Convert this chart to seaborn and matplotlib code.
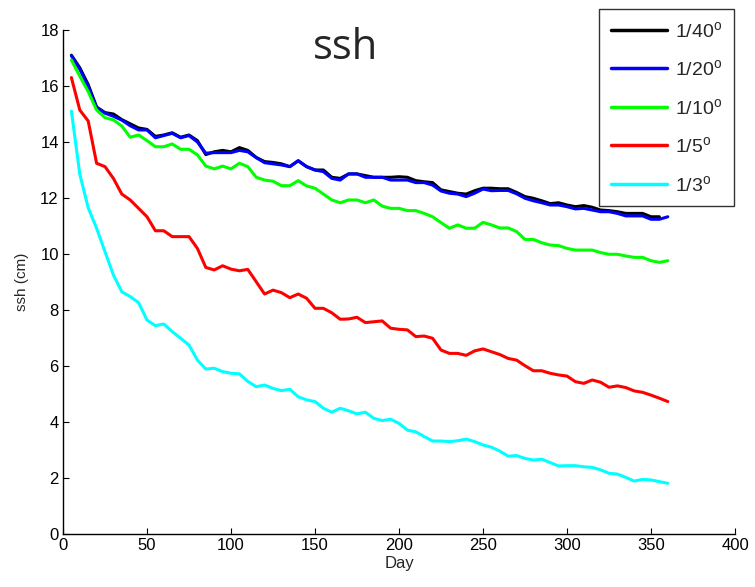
import numpy as np
import pandas as pd
import matplotlib
matplotlib.use("Agg")
import matplotlib.pyplot as plt
import seaborn as sns

days = list(range(5, 361, 5))
days_40 = list(range(5, 356, 5))

ssh_40 = [17.1, 16.65, 16.05, 15.25, 15.05, 15.0, 14.8, 14.65, 14.5, 14.45,
          14.2, 14.25, 14.33, 14.17, 14.25, 14.05, 13.55, 13.65, 13.7, 13.65,
          13.8, 13.7, 13.45, 13.3, 13.27, 13.22, 13.12, 13.33, 13.12, 13.0,
          13.0, 12.74, 12.7, 12.86, 12.86, 12.8, 12.74, 12.74, 12.74, 12.76,
          12.74, 12.62, 12.58, 12.55, 12.29, 12.23, 12.17, 12.14, 12.26, 12.35,
          12.35, 12.33, 12.33, 12.2, 12.05, 11.99, 11.9, 11.8, 11.83, 11.75,
          11.69, 11.73, 11.67, 11.57, 11.55, 11.51, 11.45, 11.45, 11.45, 11.33,
          11.33]
ssh_20 = [17.08, 16.6, 15.98, 15.22, 15.03, 14.92, 14.78, 14.58, 14.43, 14.43,
          14.15, 14.23, 14.31, 14.15, 14.23, 14.0, 13.6, 13.62, 13.62, 13.62,
          13.7, 13.65, 13.44, 13.26, 13.22, 13.18, 13.12, 13.33, 13.12, 13.0,
          12.94, 12.7, 12.64, 12.86, 12.86, 12.74, 12.74, 12.74, 12.64, 12.64,
          12.64, 12.55, 12.55, 12.46, 12.25, 12.17, 12.14, 12.05, 12.17, 12.32,
          12.26, 12.27, 12.27, 12.15, 11.99, 11.9, 11.83, 11.75, 11.75, 11.69,
          11.61, 11.63, 11.57, 11.51, 11.51, 11.45, 11.36, 11.36, 11.36, 11.24,
          11.24, 11.33]
ssh_10 = [16.93, 16.35, 15.8, 15.14, 14.87, 14.79, 14.57, 14.17, 14.25, 14.05,
          13.83, 13.83, 13.93, 13.74, 13.74, 13.54, 13.14, 13.04, 13.14, 13.04,
          13.24, 13.12, 12.74, 12.64, 12.6, 12.44, 12.44, 12.62, 12.43, 12.35,
          12.14, 11.93, 11.83, 11.93, 11.93, 11.83, 11.93, 11.71, 11.63, 11.63,
          11.55, 11.55, 11.45, 11.33, 11.12, 10.92, 11.04, 10.92, 10.92, 11.13,
          11.04, 10.93, 10.93, 10.8, 10.52, 10.52, 10.4, 10.32, 10.3, 10.2,
          10.14, 10.14, 10.14, 10.05, 9.99, 9.99, 9.93, 9.88, 9.88, 9.76,
          9.7, 9.76]
ssh_5 = [16.3, 15.14, 14.75, 13.24, 13.12, 12.7, 12.14, 11.93, 11.63, 11.33,
         10.83, 10.83, 10.62, 10.62, 10.62, 10.2, 9.52, 9.43, 9.58, 9.46,
         9.4, 9.45, 9.01, 8.57, 8.71, 8.62, 8.44, 8.57, 8.42, 8.06,
         8.06, 7.9, 7.67, 7.68, 7.74, 7.55, 7.58, 7.61, 7.35, 7.31,
         7.29, 7.05, 7.07, 6.99, 6.57, 6.45, 6.45, 6.38, 6.54, 6.61,
         6.51, 6.41, 6.27, 6.21, 6.01, 5.83, 5.83, 5.74, 5.68, 5.64,
         5.44, 5.38, 5.5, 5.42, 5.24, 5.29, 5.23, 5.11, 5.06, 4.96,
         4.85, 4.73]
ssh_3 = [15.1, 12.85, 11.65, 10.92, 10.08, 9.25, 8.65, 8.48, 8.26, 7.64,
         7.44, 7.5, 7.23, 6.99, 6.75, 6.21, 5.89, 5.92, 5.8, 5.74,
         5.72, 5.45, 5.26, 5.32, 5.2, 5.12, 5.17, 4.9, 4.79, 4.73,
         4.49, 4.35, 4.49, 4.4, 4.29, 4.35, 4.13, 4.05, 4.1, 3.95,
         3.71, 3.65, 3.48, 3.32, 3.32, 3.3, 3.33, 3.39, 3.3, 3.18,
         3.1, 2.96, 2.78, 2.8, 2.7, 2.64, 2.67, 2.55, 2.43, 2.44,
         2.44, 2.4, 2.38, 2.29, 2.17, 2.14, 2.02, 1.89, 1.95, 1.93,
         1.87, 1.81]

labels = [r"1/40$^\mathrm{o}$", r"1/20$^\mathrm{o}$", r"1/10$^\mathrm{o}$",
          r"1/5$^\mathrm{o}$", r"1/3$^\mathrm{o}$"]
colors = ["#000000", "#0000ff", "#00ff00", "#ff0000", "#00ffff"]

frames = []
for lab, xs, ys in zip(labels,
                       [days_40, days, days, days, days],
                       [ssh_40, ssh_20, ssh_10, ssh_5, ssh_3]):
    frames.append(pd.DataFrame({"Day": xs, "ssh": ys, "res": lab}))
df = pd.concat(frames, ignore_index=True)

sns.set_style("ticks")
plt.rcParams["font.family"] = ["Liberation Sans", "DejaVu Sans"]
plt.rcParams["mathtext.fontset"] = "custom"
plt.rcParams["mathtext.rm"] = "Liberation Sans"
plt.rcParams["mathtext.it"] = "Liberation Sans"

fig = plt.figure(figsize=(7.55, 5.87), dpi=100)
ax = fig.add_axes([63 / 755, 1 - 534 / 587, 672 / 755, 504 / 587])

sns.lineplot(data=df, x="Day", y="ssh", hue="res", palette=colors,
             hue_order=labels, estimator=None, sort=False, linewidth=2.2,
             legend=False, ax=ax)

ax.set_xlim(0, 400)
ax.set_ylim(0, 18)
ax.set_xticks(range(0, 401, 50))
ax.set_yticks(range(0, 19, 2))
ax.tick_params(direction="in", length=4, width=0.8, labelsize=12,
               colors="black", pad=3)
sns.despine(ax=ax)
for s in ["left", "bottom"]:
    ax.spines[s].set_linewidth(1.0)
    ax.spines[s].set_color("black")
ax.set_xlabel("Day", fontsize=12, labelpad=2)
ax.set_ylabel("ssh (cm)", fontsize=11, labelpad=8)

ax.text(0.42, 1.005, "ssh", transform=ax.transAxes, ha="center", va="top",
        fontsize=30, family=["Open Sans", "DejaVu Sans"])

handles = ax.get_lines()[:5]
leg = fig.legend(handles, labels, loc="upper right",
                 bbox_to_anchor=(734 / 755, 1 - 9 / 587),
                 bbox_transform=fig.transFigure, frameon=True, fancybox=False,
                 fontsize=14, handlelength=2.9, labelspacing=0.95,
                 handletextpad=0.4, borderpad=0.6, borderaxespad=0)
leg.get_frame().set_edgecolor("black")
leg.get_frame().set_linewidth(1.0)
for h in leg.get_lines():
    h.set_linewidth(2.5)

fig.savefig("out.png", dpi=100)
